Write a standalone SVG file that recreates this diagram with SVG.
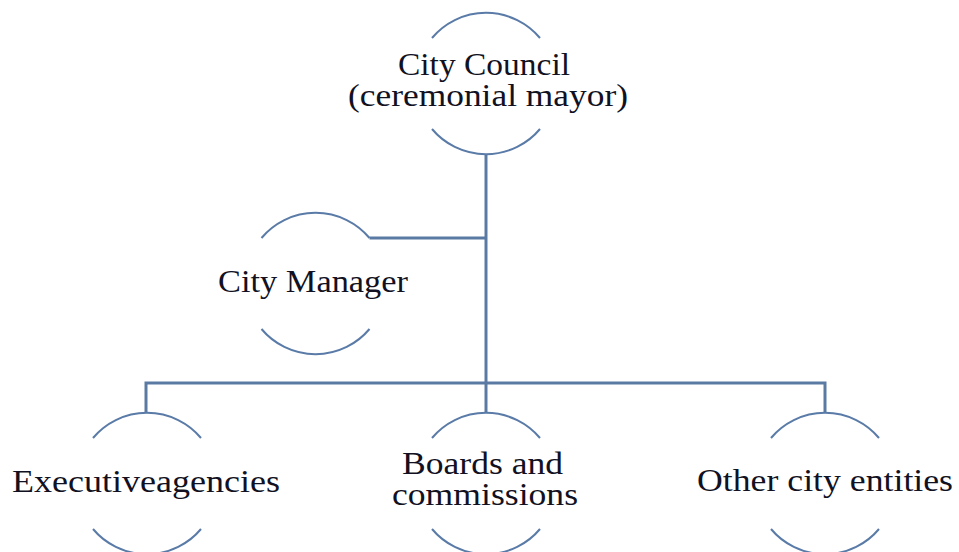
<svg xmlns="http://www.w3.org/2000/svg" xmlns:xlink="http://www.w3.org/1999/xlink" width="959" height="552" viewBox="0 0 959 552">
  <style>
    .ring { fill: none; stroke: #5a7ba7; stroke-width: 2; }
    .conn { fill: none; stroke: #5a7aa4; stroke-width: 3; }
    .lbl { font-family: "Liberation Serif", "Times New Roman", serif; font-size: 32px; fill: #111122; }
  </style>
  <defs>
    <path id="ring" d="M -54,-45.5 A 70.5 70.5 0 0 1 54,-45.5 M -54,45.5 A 70.5 70.5 0 0 0 54,45.5"/>
  </defs>
  <rect width="959" height="552" fill="#ffffff"/>
  <g id="connectors">
    <path class="conn" d="M 486,154 V 383"/>
    <path class="conn" d="M 369.5,238 H 486"/>
    <path class="conn" d="M 146,413 V 383 H 825 V 413"/>
    <path class="conn" d="M 486,383 V 413"/>
  </g>
  <g id="city-council">
    <use href="#ring" xlink:href="#ring" class="ring" x="486" y="83.5"/>
    <text class="lbl" x="398" y="75" textLength="172" lengthAdjust="spacingAndGlyphs">City Council</text>
    <text class="lbl" x="348" y="106" textLength="280" lengthAdjust="spacingAndGlyphs">(ceremonial mayor)</text>
  </g>
  <g id="city-manager">
    <use href="#ring" xlink:href="#ring" class="ring" x="315.5" y="283.5"/>
    <text class="lbl" x="218" y="292" textLength="190" lengthAdjust="spacingAndGlyphs">City Manager</text>
  </g>
  <g id="executive-agencies">
    <use href="#ring" xlink:href="#ring" class="ring" x="147" y="483.5"/>
    <text class="lbl" x="12" y="492" textLength="268" lengthAdjust="spacingAndGlyphs">Executiveagencies</text>
  </g>
  <g id="boards-and-commissions">
    <use href="#ring" xlink:href="#ring" class="ring" x="486" y="483.5"/>
    <text class="lbl" x="402" y="474" textLength="161" lengthAdjust="spacingAndGlyphs">Boards and</text>
    <text class="lbl" x="392" y="505" textLength="186" lengthAdjust="spacingAndGlyphs">commissions</text>
  </g>
  <g id="other-city-entities">
    <use href="#ring" xlink:href="#ring" class="ring" x="825" y="483.5"/>
    <text class="lbl" x="697" y="491" textLength="256" lengthAdjust="spacingAndGlyphs">Other city entities</text>
  </g>
</svg>
